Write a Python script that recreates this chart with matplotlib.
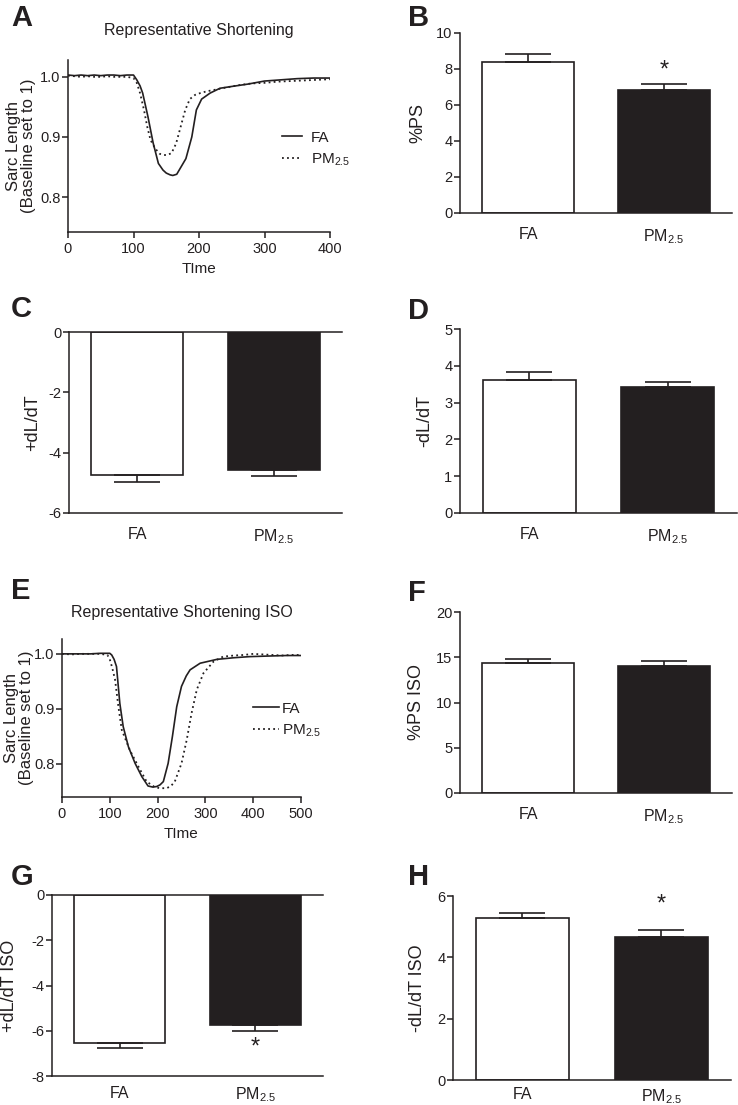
import matplotlib
matplotlib.use("Agg")
import matplotlib.pyplot as plt
from matplotlib.lines import Line2D

plt.rcParams['font.family'] = ['Liberation Sans', 'DejaVu Sans']
plt.rcParams['mathtext.fontset'] = 'custom'
plt.rcParams['mathtext.rm'] = 'Liberation Sans'
plt.rcParams['mathtext.it'] = 'Liberation Sans'
plt.rcParams['mathtext.default'] = 'regular'

INK = '#231f20'

# ---------------- data ----------------
groups = ['FA', r'PM$_{2.5}$']

# Panel A traces (Representative Shortening)
a_fa_t = [0, 10, 20, 30, 40, 50, 60, 70, 80, 90, 100, 105, 110, 114, 122, 130, 138, 145, 150, 156,
          160, 166, 173, 180, 189, 196, 204, 217, 232, 250, 275, 300, 325, 350, 375, 400]
a_fa_v = [1.003, 1.002, 1.003, 1.002, 1.003, 1.002, 1.003, 1.003, 1.002, 1.003, 1.003, 0.995, 0.985,
          0.973, 0.934, 0.890, 0.856, 0.845, 0.840, 0.837, 0.836, 0.838, 0.851, 0.864, 0.900, 0.945,
          0.963, 0.973, 0.981, 0.984, 0.988, 0.993, 0.995, 0.997, 0.998, 0.998]
a_pm_t = [0, 10, 20, 30, 40, 50, 60, 70, 80, 90, 100, 105, 110, 116, 121, 126, 133, 140, 146, 151,
          158, 165, 172, 179, 186, 194, 202, 212, 222, 240, 260, 280, 300, 320, 340, 360, 380, 400]
a_pm_v = [1.002, 1.001, 1.000, 1.001, 1.000, 1.000, 1.001, 1.000, 1.000, 1.000, 0.998, 0.990, 0.973,
          0.945, 0.917, 0.895, 0.881, 0.872, 0.870, 0.870, 0.873, 0.889, 0.917, 0.945, 0.963, 0.970,
          0.973, 0.976, 0.978, 0.982, 0.986, 0.989, 0.990, 0.992, 0.993, 0.994, 0.995, 0.996]

# Panel E traces (Representative Shortening ISO)
e_fa_t = [0, 20, 40, 60, 80, 100, 104, 109, 114, 121, 128, 139, 153, 167, 180, 190, 198, 205, 212,
          222, 231, 240, 250, 260, 268, 289, 324, 360, 393, 430, 470, 500]
e_fa_v = [1.000, 1.000, 1.000, 1.000, 1.001, 1.001, 0.998, 0.990, 0.977, 0.910, 0.868, 0.831, 0.801,
          0.777, 0.760, 0.758, 0.759, 0.762, 0.768, 0.801, 0.850, 0.904, 0.941, 0.960, 0.971, 0.983,
          0.990, 0.993, 0.995, 0.996, 0.997, 0.997]
e_pm_t = [0, 20, 40, 60, 80, 95, 100, 105, 111, 118, 125, 142, 160, 177, 194, 205, 219, 228, 236,
          250, 261, 271, 282, 296, 317, 337, 360, 380, 400, 420, 440, 460, 480, 500]
e_pm_v = [1.000, 0.999, 1.000, 1.000, 1.000, 0.998, 0.990, 0.975, 0.953, 0.904, 0.862, 0.825, 0.795,
          0.768, 0.758, 0.756, 0.756, 0.760, 0.768, 0.801, 0.844, 0.892, 0.935, 0.965, 0.986, 0.995,
          0.997, 0.998, 1.000, 0.999, 0.998, 0.997, 0.998, 0.998]

# Bar panels: means and SEM
ps_mean = [8.40, 6.85]
ps_sem = [0.44, 0.31]
pdldt_mean = [-4.75, -4.57]
pdldt_sem = [0.22, 0.19]
ndldt_mean = [3.62, 3.42]
ndldt_sem = [0.20, 0.15]
ps_iso_mean = [14.35, 14.00]
ps_iso_sem = [0.50, 0.58]
pdldt_iso_mean = [-6.55, -5.75]
pdldt_iso_sem = [0.23, 0.25]
ndldt_iso_mean = [5.27, 4.65]
ndldt_iso_sem = [0.19, 0.23]

# ---------------- layout ----------------
W, H = 738, 1105
fig = plt.figure(figsize=(W / 100, H / 100), dpi=100)


def add_ax(x0, y0, x1, y1):
    ax = fig.add_axes([x0 / W, 1 - y1 / H, (x1 - x0) / W, (y1 - y0) / H])
    ax._px = (x0, x1)
    return ax


def place_ylabel(ax, right_px):
    x0, x1 = ax._px
    ax.yaxis.set_label_coords((right_px - x0) / (x1 - x0), 0.5)


dotted = (0, (1.0, 1.8))


def trace_panel(ax, tf, vf, tp, vp, xmax, ymin, ymax, label_right, leg_anchor, handlelen,
                textpad):
    ax.plot(tf, vf, color=INK, lw=1.2, solid_joinstyle='round')
    ax.plot(tp, vp, color=INK, lw=1.3, linestyle=dotted)
    ax.set_xlim(0, xmax)
    ax.set_ylim(ymin, ymax)
    ax.set_yticks([0.8, 0.9, 1.0])
    ax.set_yticklabels(['0.8', '0.9', '1.0'])
    ax.set_xticks(list(range(0, xmax + 1, 100)))
    for s in ['top', 'right']:
        ax.spines[s].set_visible(False)
    for s in ['left', 'bottom']:
        ax.spines[s].set_linewidth(1.1)
        ax.spines[s].set_color(INK)
    ax.tick_params(axis='both', colors=INK, labelsize=10.5, width=1.1, length=4)
    ax.tick_params(axis='y', pad=1.5)
    ax.set_xlabel('TIme', fontsize=11, color=INK, labelpad=4)
    ax.set_ylabel('Sarc Length\n(Baseline set to 1)', fontsize=12, color=INK, linespacing=1.0)
    place_ylabel(ax, label_right)
    handles = [Line2D([], [], color=INK, lw=1.2),
               Line2D([], [], color=INK, lw=1.3, linestyle=dotted)]
    ax.legend(handles, groups, loc='center left', bbox_to_anchor=leg_anchor,
              frameon=False, fontsize=11, handlelength=handlelen, handletextpad=textpad,
              labelspacing=0.45, labelcolor=INK)
    ax.set_facecolor('none')


def bar_panel(ax, means, sems, ylim, yticks, ylabel, label_right, star=None, star_off=2,
              negative=False, xpad=10):
    x = [0, 1]
    colors = ['white', INK]
    ax.bar(x, means, width=0.675, color=colors, edgecolor=INK, linewidth=1.2, zorder=2)
    for xi, m, s in zip(x, means, sems):
        yerr = [[s], [0]] if negative else [[0], [s]]
        ax.errorbar([xi], [m], yerr=yerr, fmt='none', ecolor=INK, elinewidth=1.2,
                    capsize=16.5, capthick=1.2, zorder=3)
    ax.set_xlim(-0.5, 1.5)
    ax.set_ylim(*ylim)
    ax.set_yticks(yticks)
    ax.set_yticklabels([str(t) for t in yticks])
    ax.set_xticks(x)
    ax.set_xticklabels(groups)
    ax.spines['right'].set_visible(False)
    ax.spines['top'].set_visible(negative)
    for s in ax.spines.values():
        s.set_linewidth(1.1)
        s.set_color(INK)
    ax.tick_params(axis='both', colors=INK, labelsize=10.5, width=1.1, length=4, direction='out')
    ax.tick_params(axis='y', pad=1.5)
    ax.tick_params(axis='x', length=0, pad=xpad, labelsize=11.5)
    ax.set_facecolor('none')
    ax.set_ylabel(ylabel, fontsize=13, color=INK)
    place_ylabel(ax, label_right)
    if star is not None:
        i = star
        if negative:
            yv = means[i] - sems[i]
            ax.annotate('*', xy=(x[i], yv), xytext=(0, -star_off), textcoords='offset points',
                        ha='center', va='top', fontsize=17, color=INK)
        else:
            yv = means[i] + sems[i]
            ax.annotate('*', xy=(x[i], yv), xytext=(0, star_off), textcoords='offset points',
                        ha='center', va='bottom', fontsize=17, color=INK)


# Panel A
axA = add_ax(68, 60, 330, 232)
trace_panel(axA, a_fa_t, a_fa_v, a_pm_t, a_pm_v, 400, 0.742, 1.028, 36, (0.765, 0.48), 1.3, 0.6)
fig.text(199 / W, 1 - 31 / H, 'Representative Shortening', ha='center', va='center',
         fontsize=11.5, color=INK)

# Panel B
axB = add_ax(460, 33, 732, 213)
bar_panel(axB, ps_mean, ps_sem, (0, 10), [0, 2, 4, 6, 8, 10], '%PS', 426, star=1, star_off=2)

# Panel C
axC = add_ax(69, 332, 342, 513)
bar_panel(axC, pdldt_mean, pdldt_sem, (-6, 0), [-6, -4, -2, 0], '+dL/dT', 41, negative=True)

# Panel D
axD = add_ax(460, 329, 737, 513)
bar_panel(axD, ndldt_mean, ndldt_sem, (0, 5), [0, 1, 2, 3, 4, 5], '-dL/dT', 433)

# Panel E
axE = add_ax(62, 639, 301, 797)
trace_panel(axE, e_fa_t, e_fa_v, e_pm_t, e_pm_v, 500, 0.740, 1.027, 34, (0.74, 0.485), 1.7, 0.2)
fig.text(181.5 / W, 1 - 612 / H, 'Representative Shortening ISO', ha='center', va='center',
         fontsize=11.5, color=INK)

# Panel F
axF = add_ax(460, 612, 732, 793)
bar_panel(axF, ps_iso_mean, ps_iso_sem, (0, 20), [0, 5, 10, 15, 20], '%PS ISO', 425)

# Panel G
axG = add_ax(52, 895, 323, 1076)
bar_panel(axG, pdldt_iso_mean, pdldt_iso_sem, (-8, 0), [-8, -6, -4, -2, 0], '+dL/dT ISO', 18,
          star=1, star_off=4, negative=True, xpad=7)

# Panel H
axH = add_ax(453, 896, 731, 1080)
bar_panel(axH, ndldt_iso_mean, ndldt_iso_sem, (0, 6), [0, 2, 4, 6], '-dL/dT ISO', 426,
          star=1, star_off=11, xpad=5)

# Panel letters
letters = [('A', 11, 4), ('B', 408, 4), ('C', 11, 295), ('D', 408, 297),
           ('E', 11, 577), ('F', 408, 579), ('G', 11, 863), ('H', 408, 863)]
for lab, px, py in letters:
    fig.text(px / W, 1 - py / H, lab, ha='left', va='top', fontsize=21, fontweight='bold',
             color=INK)

fig.savefig('out.png', dpi=100)
